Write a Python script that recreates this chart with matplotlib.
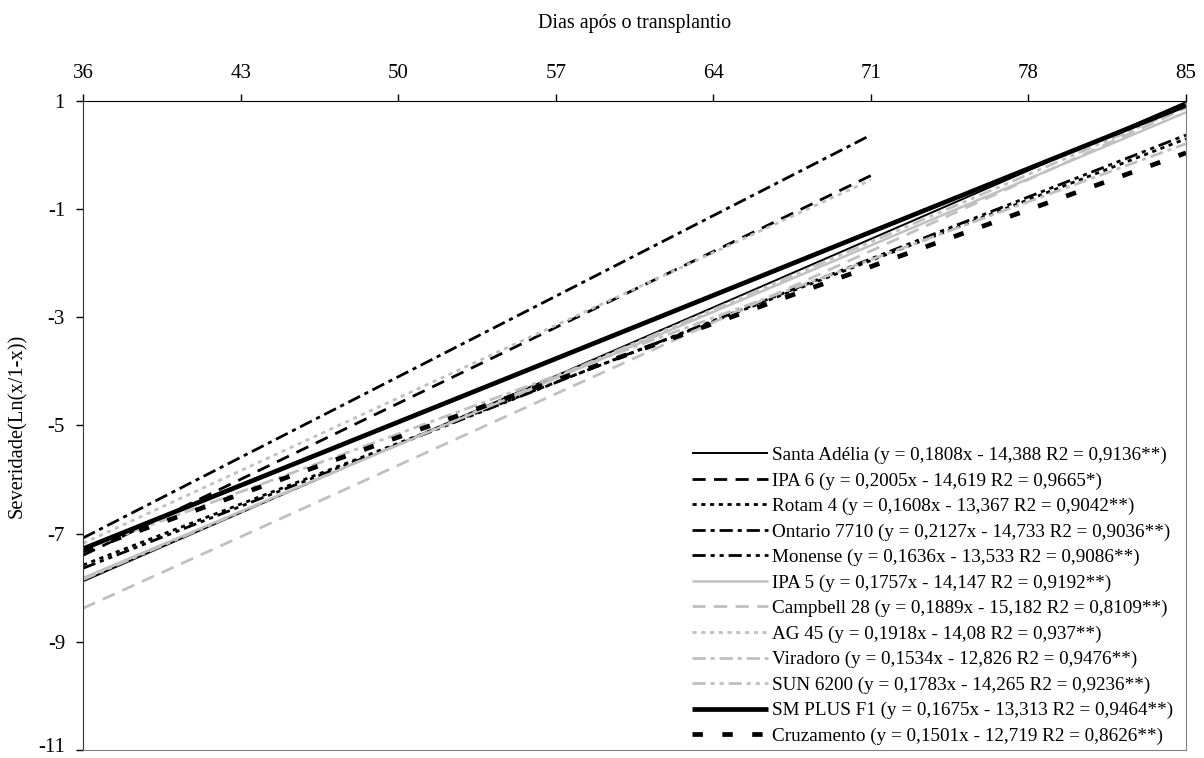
import matplotlib
matplotlib.use("Agg")
import matplotlib.pyplot as plt
import matplotlib.transforms as mtransforms

plt.rcParams['font.family'] = ['Liberation Serif', 'DejaVu Serif']
plt.rcParams['lines.scale_dashes'] = False
plt.rcParams['axes.unicode_minus'] = False

# cultivares e extremos das retas ajustadas
cultivares = ["Santa Adélia", "IPA 6", "Rotam 4", "Ontario 7710", "Monense",
              "IPA 5", "Campbell 28", "AG 45", "Viradoro", "SUN 6200",
              "SM PLUS F1", "Cruzamento"]
equacoes = ["y = 0,1808x - 14,388 R2 = 0,9136**",
            "y = 0,2005x - 14,619 R2 = 0,9665*",
            "y = 0,1608x - 13,367 R2 = 0,9042**",
            "y = 0,2127x - 14,733 R2 = 0,9036**",
            "y = 0,1636x - 13,533 R2 = 0,9086**",
            "y = 0,1757x - 14,147 R2 = 0,9192**",
            "y = 0,1889x - 15,182 R2 = 0,8109**",
            "y = 0,1918x - 14,08 R2 = 0,937**",
            "y = 0,1534x - 12,826 R2 = 0,9476**",
            "y = 0,1783x - 14,265 R2 = 0,9236**",
            "y = 0,1675x - 13,313 R2 = 0,9464**",
            "y = 0,1501x - 12,719 R2 = 0,8626**"]
x_ini = [36, 36, 36, 36, 36, 36, 36, 36, 36, 36, 36, 36]
x_fim = [85, 71, 85, 71, 85, 85, 85, 71, 85, 85, 85, 85]
y_ini = [-7.88, -7.40, -7.58, -7.08, -7.64, -7.82, -8.38, -7.18, -7.30, -7.85, -7.28, -7.32]
y_fim = [0.98, -0.38, 0.30, 0.37, 0.37, 0.79, 0.87, -0.46, 0.21, 0.89, 0.92, 0.04]

dias = [36, 43, 50, 57, 64, 71, 78, 85]
sev_ticks = [1, -1, -3, -5, -7, -9, -11]

cinza = '#c0c0c0'
estilos = [
    dict(color='black', lw=1.4, ls='-'),
    dict(color='black', lw=2.0, ls=(0, (9.5, 6))),
    dict(color='black', lw=2.0, ls=(0, (3, 3.3))),
    dict(color='black', lw=2.0, ls=(0, (9.5, 3.5, 3, 3.5))),
    dict(color='black', lw=2.0, ls=(0, (9.5, 3.5, 3, 3.5, 3, 3.5))),
    dict(color=cinza, lw=1.8, ls='-'),
    dict(color=cinza, lw=2.0, ls=(0, (9.5, 6))),
    dict(color=cinza, lw=2.0, ls=(0, (3, 3.3))),
    dict(color=cinza, lw=2.0, ls=(0, (9.5, 3.5, 3, 3.5))),
    dict(color=cinza, lw=2.0, ls=(0, (9.5, 3.5, 3, 3.5, 3, 3.5))),
    dict(color='black', lw=3.4, ls='-'),
    dict(color='black', lw=3.4, ls=(0, (7.5, 14))),
]

fig = plt.figure(figsize=(12.04, 7.58), dpi=100)
ax = fig.add_axes([0.069, 0.0106, 0.916, 0.8562])

for i in range(len(cultivares)):
    ax.plot([x_ini[i], x_fim[i]], [y_ini[i], y_fim[i]],
            label=cultivares[i] + " (" + equacoes[i] + ")",
            solid_capstyle='butt', dash_capstyle='butt', **estilos[i])

ax.set_xlim(36, 85)
ax.set_ylim(-11, 1)
ax.set_xticks(dias)
ax.set_yticks(sev_ticks)
ax.xaxis.tick_top()
ax.xaxis.set_label_position('top')
ax.tick_params(axis='both', direction='out', length=5, width=1, labelsize=15)
ax.tick_params(axis='x', pad=8)
ax.tick_params(axis='y', pad=8)
ax.set_xlabel('Dias após o transplantio', fontsize=14.5, labelpad=26)
ax.set_ylabel('Severidade(Ln(x/1-x))', fontsize=14.8, labelpad=8)

# sobe um pouco o rótulo -11 para não ser cortado na borda
rot = ax.get_yticklabels()[-1]
rot.set_transform(rot.get_transform() +
                  mtransforms.ScaledTranslation(0, 5 / 100, fig.dpi_scale_trans))

ax.spines['top'].set_color('black')
ax.spines['left'].set_color('#333333')
ax.spines['right'].set_color('#808080')
ax.spines['bottom'].set_color('#808080')

leg = ax.legend(loc='lower right', bbox_to_anchor=(0.9955, -0.004),
                frameon=False, fontsize=13.8,
                handlelength=4.0, handletextpad=0.2, labelspacing=0.42,
                borderaxespad=0.0)

fig.savefig('out.png', dpi=100)
